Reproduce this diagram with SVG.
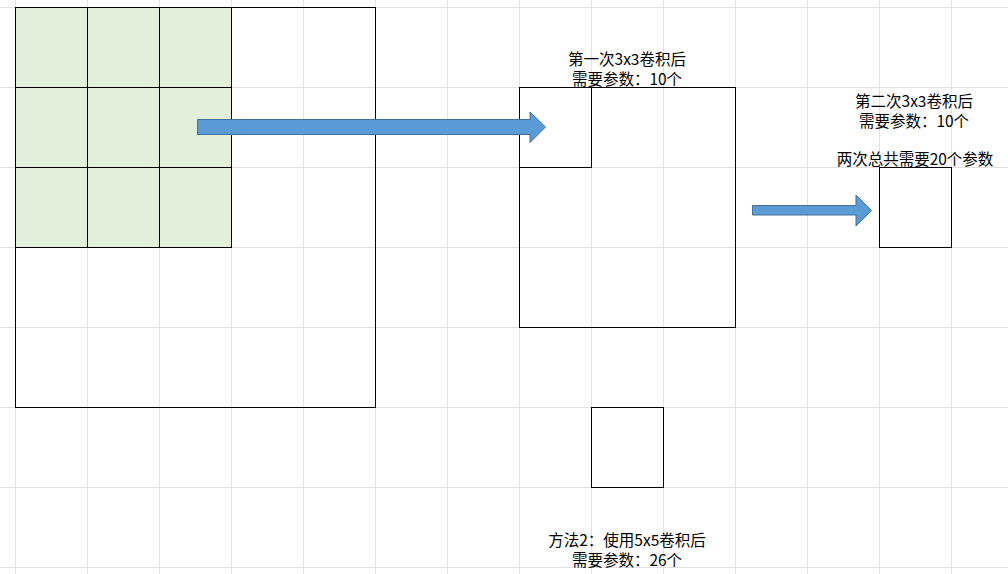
<svg xmlns="http://www.w3.org/2000/svg" width="1008" height="574" viewBox="0 0 1008 574">
<style>
.grid{stroke:#e1e1e1;stroke-width:1;fill:none}
.box{stroke:#000;stroke-width:1;fill:none}
.green{fill:#e2efda;stroke:#000;stroke-width:1}
.arrow{fill:#5b9bd5;stroke:#41719c;stroke-width:1}
.t{font-family:"Noto Sans CJK SC","Noto Sans CJK JP",sans-serif;font-size:15.5px;fill:#000;text-anchor:middle}
</style>
<rect width="1008" height="574" fill="#fff"/>
<g id="grid" class="grid">
<path d="M15.5 0V574M87.5 0V574M159.5 0V574M231.5 0V574M303.5 0V574M375.5 0V574M447.5 0V574M519.5 0V574M591.5 0V574M663.5 0V574M735.5 0V574M807.5 0V574M879.5 0V574M951.5 0V574"/>
<path d="M0 7.5H1008M0 87.5H1008M0 167.5H1008M0 247.5H1008M0 327.5H1008M0 407.5H1008M0 487.5H1008M0 567.5H1008"/>
</g>
<g id="input">
<rect x="15.5" y="7.5" width="360" height="400" fill="#fff" class="box"/>
<path d="M15.5 87.5H303.5M15.5 167.5H303.5M15.5 247.5H303.5M15.5 327.5H303.5M87.5 7.5V407.5M159.5 7.5V407.5M231.5 7.5V407.5M303.5 7.5V407.5" class="grid"/>
<rect x="15.5" y="7.5" width="216" height="240" class="green"/>
<path d="M87.5 7.5V247.5M159.5 7.5V247.5M15.5 87.5H231.5M15.5 167.5H231.5" class="box"/>
<rect x="15.5" y="7.5" width="360" height="400" class="box"/>
</g>
<g id="first-result">
<rect x="519.5" y="87.5" width="216" height="240" class="box"/>
<rect x="519.5" y="87.5" width="72" height="80" class="box"/>
<text class="t" x="627" y="65">第一次3x3卷积后</text>
<text class="t" x="627" y="85">需要参数：10个</text>
</g>
<g id="second-result">
<rect x="879.5" y="167.5" width="72" height="80" class="box"/>
<text class="t" x="914" y="107">第二次3x3卷积后</text>
<text class="t" x="914" y="127">需要参数：10个</text>
<text class="t" x="915" y="165">两次总共需要20个参数</text>
</g>
<g id="method2">
<rect x="591.5" y="407.5" width="72" height="80" class="box"/>
<text class="t" x="627" y="546">方法2：使用5x5卷积后</text>
<text class="t" x="627" y="566">需要参数：26个</text>
</g>
<g id="connectors">
<path class="arrow" d="M197.5 119.5H530V112L545.5 127L530 142.5V134.5H197.5Z"/>
<path class="arrow" d="M752.5 205.5H856V195L871.5 210.5L856 226V215H752.5Z"/>
</g>
</svg>
